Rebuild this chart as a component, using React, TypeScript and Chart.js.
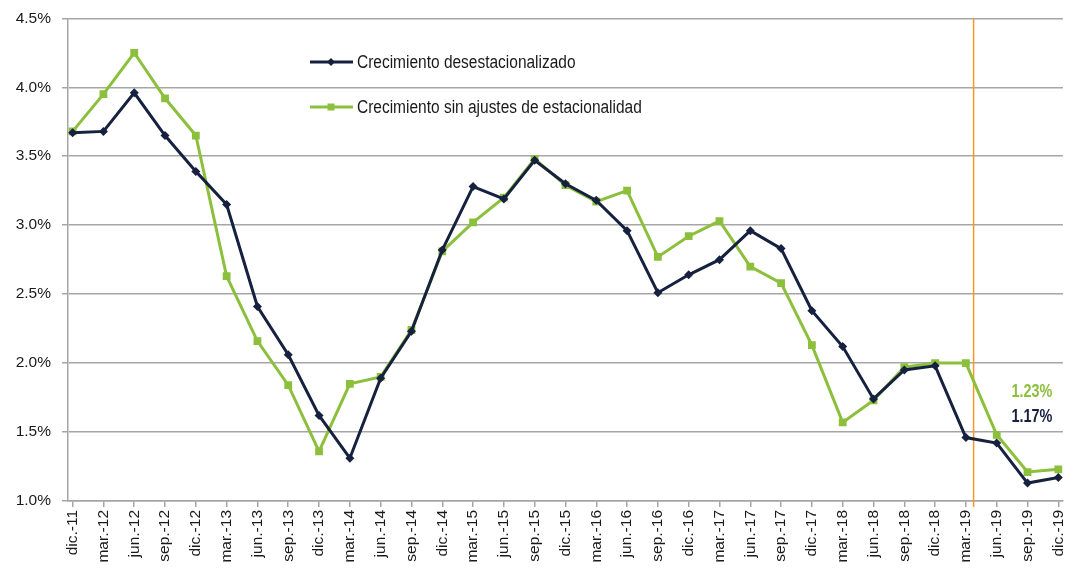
import React, { useEffect, useRef } from 'react';
import { Chart, registerables } from 'chart.js';

Chart.register(...registerables);

const categories = [
  'dic.-11', 'mar.-12', 'jun.-12', 'sep.-12', 'dic.-12', 'mar.-13', 'jun.-13', 'sep.-13', 'dic.-13',
  'mar.-14', 'jun.-14', 'sep.-14', 'dic.-14', 'mar.-15', 'jun.-15', 'sep.-15', 'dic.-15',
  'mar.-16', 'jun.-16', 'sep.-16', 'dic.-16', 'mar.-17', 'jun.-17', 'sep.-17', 'dic.-17',
  'mar.-18', 'jun.-18', 'sep.-18', 'dic.-18', 'mar.-19', 'jun.-19', 'sep.-19', 'dic.-19',
];

const desestacionalizado = [
  3.67, 3.68, 3.96, 3.65, 3.39, 3.15, 2.41, 2.06, 1.62,
  1.31, 1.89, 2.23, 2.82, 3.28, 3.19, 3.47, 3.30,
  3.18, 2.96, 2.51, 2.64, 2.75, 2.96, 2.83, 2.38,
  2.12, 1.74, 1.95, 1.98, 1.46, 1.42, 1.13, 1.17,
];

const sinAjustes = [
  3.68, 3.95, 4.25, 3.92, 3.65, 2.63, 2.16, 1.84, 1.36,
  1.85, 1.90, 2.24, 2.81, 3.02, 3.20, 3.48, 3.29,
  3.17, 3.25, 2.77, 2.92, 3.03, 2.70, 2.58, 2.13,
  1.57, 1.73, 1.97, 2.00, 2.00, 1.48, 1.21, 1.23,
];

const seriesNames = ['Crecimiento desestacionalizado', 'Crecimiento sin ajustes de estacionalidad'];
const yMin = 1.0;
const yMax = 4.5;
const yStep = 0.5;
const markerLinePosition = 29.25; // between mar.-19 and jun.-19

const DARK = '#15213f';
const GREEN = '#8cbf3b';
const ORANGE = '#f39a2b';
const GRID = '#a6a6a6';
const TEXT = '#1a1a1a';
const FONT = "'Liberation Sans', Arial, sans-serif";
const SHIFT = 2; // canvas is shifted up by this many px

function narrowText(ctx: any, text: string, x: number, y: number, scaleX: number) {
  ctx.save();
  ctx.translate(x, y);
  ctx.scale(scaleX, 1);
  ctx.fillText(text, 0, 0);
  ctx.restore();
}

const overlayPlugin = {
  id: 'overlay',
  beforeDatasetsDraw(chart: any) {
    const { ctx, chartArea, scales } = chart;
    const x = scales.x.getPixelForValue(markerLinePosition);
    ctx.save();
    ctx.strokeStyle = ORANGE;
    ctx.lineWidth = 1.5;
    ctx.beginPath();
    ctx.moveTo(x, chartArea.top);
    ctx.lineTo(x, chartArea.bottom + 6);
    ctx.stroke();
    ctx.restore();
  },
  afterDatasetsDraw(chart: any) {
    const { ctx, scales } = chart;
    ctx.save();
    const items = [
      { label: seriesNames[0], color: DARK, shape: 'diamond', y: 62 + SHIFT },
      { label: seriesNames[1], color: GREEN, shape: 'square', y: 107 + SHIFT },
    ];
    items.forEach((it) => {
      ctx.strokeStyle = it.color;
      ctx.fillStyle = it.color;
      ctx.lineWidth = 3;
      ctx.beginPath();
      ctx.moveTo(310, it.y);
      ctx.lineTo(353, it.y);
      ctx.stroke();
      const cx = 331;
      if (it.shape === 'diamond') {
        ctx.beginPath();
        ctx.moveTo(cx, it.y - 4);
        ctx.lineTo(cx + 4, it.y);
        ctx.lineTo(cx, it.y + 4);
        ctx.lineTo(cx - 4, it.y);
        ctx.closePath();
        ctx.fill();
      } else {
        ctx.fillRect(cx - 3.5, it.y - 3.5, 7, 7);
      }
      ctx.fillStyle = TEXT;
      ctx.font = `18px ${FONT}`;
      ctx.textAlign = 'left';
      ctx.textBaseline = 'middle';
      narrowText(ctx, it.label, 357, it.y + 1, 0.86);
    });
    const lastIdx = categories.length - 1;
    const xr = scales.x.getPixelForValue(lastIdx) - 6;
    ctx.font = `bold 19px ${FONT}`;
    ctx.textAlign = 'right';
    ctx.textBaseline = 'middle';
    ctx.fillStyle = GREEN;
    narrowText(ctx, sinAjustes[lastIdx].toFixed(2) + '%', xr, 392 + SHIFT, 0.76);
    ctx.fillStyle = DARK;
    narrowText(ctx, desestacionalizado[lastIdx].toFixed(2) + '%', xr, 417 + SHIFT, 0.76);
    ctx.restore();
  },
};

export default function App() {
  const canvasRef = useRef<HTMLCanvasElement>(null);

  useEffect(() => {
    if (!canvasRef.current) return;
    const chart = new Chart(canvasRef.current, {
      type: 'line',
      data: {
        datasets: [
          {
            label: seriesNames[0],
            data: desestacionalizado.map((v, i) => ({ x: i, y: v })),
            borderColor: DARK,
            backgroundColor: DARK,
            borderWidth: 3,
            pointStyle: 'rectRot',
            pointRadius: 4.5,
            pointBorderWidth: 0,
            tension: 0,
          },
          {
            label: seriesNames[1],
            data: sinAjustes.map((v, i) => ({ x: i, y: v })),
            borderColor: GREEN,
            backgroundColor: GREEN,
            borderWidth: 3,
            pointStyle: 'rect',
            pointRadius: 5.5,
            pointBorderWidth: 0,
            tension: 0,
          },
        ],
      },
      options: {
        animation: false,
        responsive: false,
        maintainAspectRatio: false,
        layout: { autoPadding: false, padding: { top: 18, right: 17, left: 0, bottom: 0 } },
        plugins: {
          legend: { display: false },
          tooltip: { enabled: false },
        },
        scales: {
          x: {
            type: 'linear',
            min: -0.15,
            max: categories.length - 1 + 0.15,
            afterBuildTicks: (scale: any) => {
              scale.ticks = categories.map((_, i) => ({ value: i }));
            },
            afterFit: (scale: any) => {
              scale.height = 67;
            },
            grid: {
              display: true,
              drawOnChartArea: false,
              drawTicks: true,
              tickLength: 6,
              color: GRID,
              lineWidth: 1.5,
            },
            border: { display: true, color: GRID, width: 1.5 },
            ticks: {
              autoSkip: false,
              minRotation: 90,
              maxRotation: 90,
              padding: 3,
              color: TEXT,
              font: { family: FONT, size: 15.5 },
              callback: (v: any) => categories[v as number] ?? '',
            },
          },
          y: {
            min: yMin,
            max: yMax,
            afterFit: (scale: any) => {
              scale.width = 68;
            },
            grid: {
              color: GRID,
              lineWidth: 1.5,
              tickLength: 6,
            },
            border: { display: true, color: GRID, width: 1.5 },
            ticks: {
              stepSize: yStep,
              padding: 11,
              color: TEXT,
              font: { family: FONT, size: 15.5 },
              callback: (v: any) => Number(v).toFixed(1) + '%',
            },
          },
        },
      },
      plugins: [overlayPlugin],
    });
    return () => chart.destroy();
  }, []);

  return (
    <div style={{ position: 'absolute', left: 0, top: 0, width: 1080, height: 568, background: '#fff', overflow: 'hidden' }}>
      <canvas
        ref={canvasRef}
        width={1080}
        height={568 + SHIFT}
        style={{ display: 'block', position: 'absolute', left: 0, top: -SHIFT }}
      />
    </div>
  );
}
